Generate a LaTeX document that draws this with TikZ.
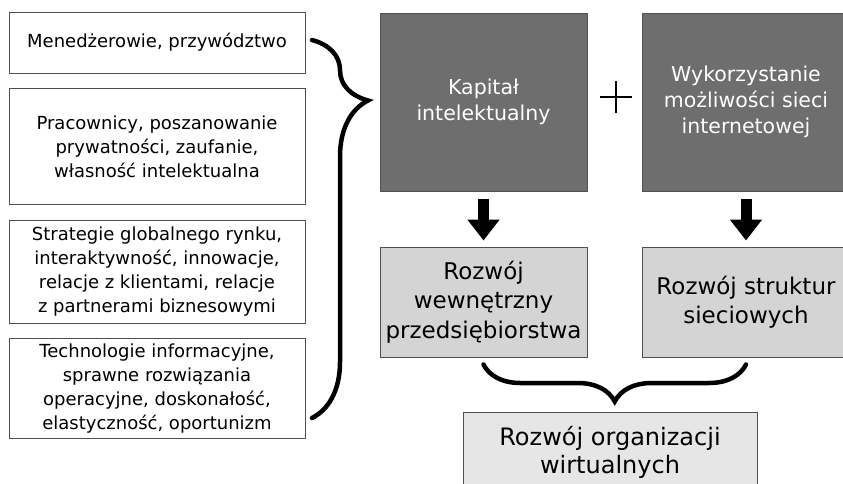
\documentclass[tikz,border=0pt]{standalone}
\usepackage{fontspec}
\setmainfont{DejaVu Sans}
\usetikzlibrary{arrows.meta,decorations.pathreplacing}
\usetikzlibrary{positioning}
\definecolor{boxline}{HTML}{505050}
\definecolor{capfill}{HTML}{6E6E6E}
\definecolor{devfill}{HTML}{D4D4D4}
\definecolor{virtfill}{HTML}{E6E6E6}
\tikzset{
    factor/.style={
           rectangle,
           draw=boxline, line width=1pt,
           fill=white,
           minimum width=296pt,
           inner sep=2pt,
           align=center,
           font=\fontsize{18}{24}\selectfont,
           },
}
\tikzset{
    capital/.style={
           rectangle,
           draw=boxline, line width=1pt,
           fill=capfill,
           text=white,
           minimum width=207pt,
           minimum height=178pt,
           align=center,
           font=\fontsize{20.5}{26}\selectfont,
           },
}
\tikzset{
    growth/.style={
           rectangle,
           draw=boxline, line width=1pt,
           fill=devfill,
           minimum width=207pt,
           minimum height=110pt,
           align=center,
           font=\fontsize{23}{29.5}\selectfont,
           },
}
\tikzset{
    plussign/.style={
           minimum size=32pt,
           inner sep=0pt,
           path picture={
             \draw[line width=1.8pt]
               (path picture bounding box.north) -- (path picture bounding box.south)
               (path picture bounding box.west) -- (path picture bounding box.east);
           },
           },
}
\tikzset{
    bracepath/.style={
           decorate,
           line width=4.5pt,
           line cap=round,
           },
}
\tikzset{
    downarrow/.style={
           line width=11pt,
           -{Triangle[width=31pt,length=21pt]},
           shorten <=7pt,
           shorten >=6pt,
           },
}

\begin{document}
\begin{tikzpicture}[x=1pt,y=-1pt,node distance=14.5pt]
 \clip (0,0) rectangle (843,483);

 % czynniki po lewej
 \node[factor, minimum height=61pt] (mgr) at (157,42.5)
 {Menedżerowie, przywództwo};
 \node[factor, minimum height=116pt, below=of mgr] (staff)
 {Pracownicy, poszanowanie\\ prywatności, zaufanie,\\ własność intelektualna};
 \node[factor, minimum height=103pt, below=of staff] (strat)
 {Strategie globalnego rynku,\\ interaktywność, innowacje,\\ relacje z klientami, relacje\\ z partnerami biznesowymi};
 \node[factor, minimum height=100pt, below=of strat] (tech)
 {Technologie informacyjne,\\ sprawne rozwiązania\\ operacyjne, doskonałość,\\ elastyczność, oportunizm};

 % kapital i siec
 \node[capital] (cap) at (483.5,102)
 {Kapitał\\ intelektualny};
 \node[capital, right=54pt of cap, minimum width=208pt] (web)
 {Wykorzystanie\\ możliwości sieci\\ internetowej};
 \node[plussign] (plus) at (616,97) {};

 \node[growth, below=55pt of cap] (inner)
 {Rozwój\\ wewnętrzny\\ przedsiębiorstwa};
 \node[growth, below=55pt of web, minimum width=208pt] (net)
 {Rozwój struktur\\ sieciowych};

 \node[growth, fill=virtfill, font=\fontsize{24}{28}\selectfont,
   minimum width=294pt, minimum height=80pt] (virt) at (610,452)
 {Rozwój organizacji\\ wirtualnych};

 \draw[downarrow] (cap) -- (inner);
 \draw[downarrow] (web) -- (net);

 % klamry
 \coordinate (btop) at (312,40);
 \coordinate (bbot) at (312,418);
 \draw[bracepath, decoration={brace, amplitude=56pt, aspect=0.16}] (btop) -- (bbot);
 \draw[bracepath, decoration={brace, amplitude=37pt, aspect=0.5}]
   ([yshift=-7pt]net.south) -- ([yshift=-7pt]inner.south);

\end{tikzpicture}
\end{document}
